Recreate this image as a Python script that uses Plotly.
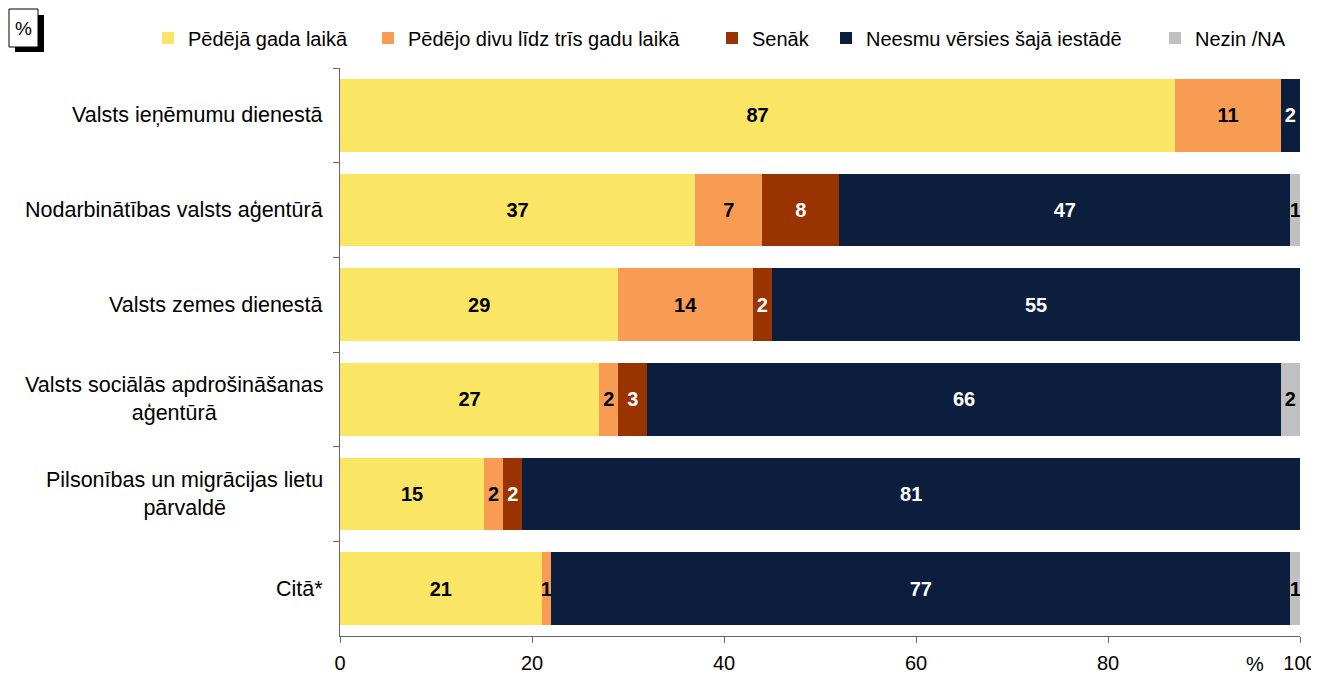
import plotly.graph_objects as go

categories = [
    "Valsts ieņēmumu dienestā",
    "Nodarbinātības valsts aģentūrā",
    "Valsts zemes dienestā",
    "Valsts sociālās apdrošināšanas<br>aģentūrā",
    "Pilsonības un migrācijas lietu<br>pārvaldē",
    "Citā*",
]
series_names = [
    "Pēdējā gada laikā",
    "Pēdējo divu līdz trīs gadu laikā",
    "Senāk",
    "Neesmu vērsies šajā iestādē",
    "Nezin /NA",
]
last_year = [87, 37, 29, 27, 15, 21]
two_three_years = [11, 7, 14, 2, 2, 1]
earlier = [0, 8, 2, 3, 2, 0]
never = [2, 47, 55, 66, 81, 77]
dont_know = [0, 1, 0, 2, 0, 1]
x_ticks = [0, 20, 40, 60, 80, 100]

series_values = [last_year, two_three_years, earlier, never, dont_know]
colors = ["#FAE664", "#F89C54", "#993300", "#0B1E3D", "#C0C0C0"]
text_colors = ["black", "black", "white", "white", "black"]
legend_swatch_px = [163, 383, 727, 841, 1170]  # page x of each legend swatch

FONT = "Liberation Sans, Arial, sans-serif"
OFF = 8  # page body margin
W, H = 1319 - OFF, 675 - OFF
PX0, PX1, PY0, PY1 = 340, 1300, 68, 636  # plot area in page pixels
ML, MT = PX0 - OFF, PY0 - OFF
MR = W - ML - (PX1 - PX0)
MB = H - MT - (PY1 - PY0)


def px2x(px):
    return (px - PX0) / (PX1 - PX0)


def px2y(py):
    return (PY1 - py) / (PY1 - PY0)


fig = go.Figure()
legend_keys = ["legend", "legend2", "legend3", "legend4", "legend5"]
for name, vals, col, tcol, lk in zip(series_names, series_values, colors, text_colors, legend_keys):
    fig.add_trace(go.Bar(
        name=name,
        y=categories,
        x=vals,
        orientation="h",
        marker=dict(color=col, line=dict(width=0)),
        text=[str(v) if v > 0 else "" for v in vals],
        textposition="inside",
        insidetextanchor="middle",
        constraintext="none",
        textangle=0,
        textfont=dict(family=FONT, size=20, color=tcol, weight="bold"),
        hoverinfo="skip",
        legend=lk,
    ))

annotations = []
for c in categories:
    annotations.append(dict(
        x=0, xref="paper", y=c, yref="y", xanchor="right", yanchor="middle",
        xshift=-15, text=c, showarrow=False, align="center",
        font=dict(family=FONT, size=21.5, color="black"),
    ))
# "%" next to the 100 tick
annotations.append(dict(
    x=95.3, xref="x", y=0, yref="paper", yanchor="middle", yshift=-28,
    text="%", showarrow=False, font=dict(family=FONT, size=20, color="black"),
))
# boxed "%" at top-left
annotations.append(dict(
    x=px2x(23.5), xref="paper", y=px2y(28), yref="paper",
    xanchor="center", yanchor="middle", text="%", showarrow=False,
    font=dict(family=FONT, size=19, color="black"),
))

shapes = [
    dict(type="rect", xref="paper", yref="paper",
         x0=px2x(15), x1=px2x(44), y0=px2y(15), y1=px2y(52),
         fillcolor="black", line=dict(width=0)),
    dict(type="rect", xref="paper", yref="paper",
         x0=px2x(9), x1=px2x(38), y0=px2y(9), y1=px2y(47),
         fillcolor="white", line=dict(color="black", width=1)),
]

legend_layout = {}
for lk, sx in zip(legend_keys, legend_swatch_px):
    legend_layout[lk] = dict(
        orientation="h", x=px2x(sx - 15), xanchor="left", y=px2y(38), yanchor="middle",
        font=dict(family=FONT, size=20, color="black"),
        itemclick=False, itemdoubleclick=False, bgcolor="rgba(0,0,0,0)",
    )

fig.update_layout(
    width=W, height=H,
    margin=dict(l=ML, r=MR, t=MT, b=MB, autoexpand=False),
    barmode="stack",
    bargap=0.23,
    plot_bgcolor="white",
    paper_bgcolor="white",
    font=dict(family=FONT, size=20, color="black"),
    xaxis=dict(
        range=[0, 100], tickvals=x_ticks, showgrid=False, zeroline=False,
        showline=True, linecolor="#666666", linewidth=1,
        ticks="outside", ticklen=6, tickcolor="#666666", ticklabelstandoff=3,
        tickfont=dict(family=FONT, size=20, color="black"),
        fixedrange=True,
    ),
    yaxis=dict(
        autorange="reversed", showgrid=False, zeroline=False,
        showline=True, linecolor="#666666", linewidth=1,
        ticks="outside", ticklen=6, tickcolor="#666666", tickson="boundaries",
        showticklabels=False, fixedrange=True,
    ),
    annotations=annotations,
    shapes=shapes,
    showlegend=True,
    **legend_layout,
)

fig.write_html("out.html")
